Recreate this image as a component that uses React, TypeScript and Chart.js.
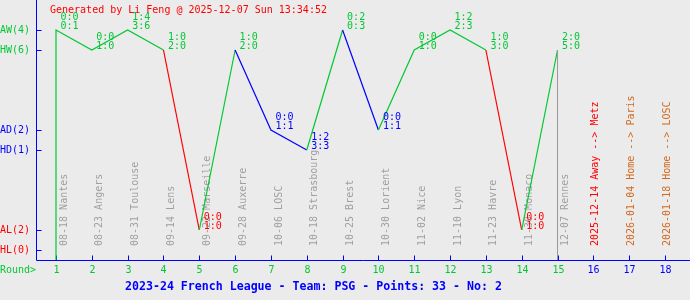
import { useEffect, useRef } from 'react';
import { Chart, registerables } from 'chart.js';

Chart.register(...registerables);

// ---- data ----
const rounds = [1, 2, 3, 4, 5, 6, 7, 8, 9, 10, 11, 12, 13, 14, 15];
const results = ['AW', 'HW', 'AW', 'HW', 'AL', 'HW', 'AD', 'HD', 'AW', 'AD', 'HW', 'AW', 'HW', 'AL', 'HW'];
const halfTime = ['0:0', '0:0', '1:4', '1:0', '0:0', '1:0', '0:0', '1:2', '0:2', '0:0', '0:0', '1:2', '1:0', '0:0', '2:0'];
const fullTime = ['0:1', '1:0', '3:6', '2:0', '1:0', '2:0', '1:1', '3:3', '0:3', '1:1', '1:0', '2:3', '3:0', '1:0', '5:0'];
const matchDates = ['08-18', '08-23', '08-31', '09-14', '09-22', '09-28', '10-06', '10-18', '10-25', '10-30', '11-02', '11-10', '11-23', '11-30', '12-07'];
const opponents = ['Nantes', 'Angers', 'Toulouse', 'Lens', 'Marseille', 'Auxerre', 'LOSC', 'Strasbourg', 'Brest', 'Lorient', 'Nice', 'Lyon', 'Havre', 'Monaco', 'Rennes'];

const futureRounds = [16, 17, 18];
const futureDates = ['2025-12-14', '2026-01-04', '2026-01-18'];
const futureVenues = ['Away', 'Home', 'Home'];
const futureOpponents = ['Metz', 'Paris', 'LOSC'];

const levelKeys = ['AW', 'HW', 'AD', 'HD', 'AL', 'HL'];
const levelValues = [11, 10, 6, 5, 1, 0];
const levelCounts = [4, 6, 2, 1, 2, 0];

const headerText = 'Generated by Li Feng @ 2025-12-07 Sun 13:34:52';
const titleText = '2023-24 French League - Team: PSG - Points: 33 - No: 2';
const roundLabel = 'Round>';

// ---- style ----
const GREEN = '#00c832';
const BLUE = '#0000ff';
const RED = '#ff0000';
const BROWN = '#d2691e';
const GRAY = '#a0a0a0';
const BG = '#ebebeb';
const FONT = '"DejaVu Sans Mono", "Liberation Mono", monospace';

const colorOf = (code: string) => (code[1] === 'W' ? GREEN : code[1] === 'D' ? BLUE : RED);
const valueOf = (code: string) => levelValues[levelKeys.indexOf(code)];

export default function App() {
  const ref = useRef<HTMLCanvasElement>(null);

  useEffect(() => {
    document.body.style.margin = '0';
    const canvas = ref.current;
    if (!canvas) return;

    const mainData = [{ x: rounds[0], y: -0.5 }, ...rounds.map((r, i) => ({ x: r, y: valueOf(results[i]) }))];
    const lastIdx = rounds.length - 1;
    const markerData = [
      { x: rounds[lastIdx], y: -0.5 },
      { x: rounds[lastIdx], y: valueOf(results[lastIdx]) },
    ];

    const deco = {
      id: 'deco',
      beforeDraw(chart: any) {
        const ctx = chart.ctx;
        ctx.save();
        ctx.fillStyle = BG;
        ctx.fillRect(0, 0, chart.width, chart.height);
        ctx.restore();
      },
      beforeDatasetsDraw(chart: any) {
        const ctx = chart.ctx;
        const xs = chart.scales.x;
        const ys = chart.scales.y;
        const area = chart.chartArea;
        const ax = Math.round(area.left) - 0.5;
        const ay = Math.round(area.bottom) + 0.5;
        ctx.save();
        // axes
        ctx.strokeStyle = BLUE;
        ctx.lineWidth = 1;
        ctx.beginPath();
        ctx.moveTo(ax, area.top);
        ctx.lineTo(ax, ay);
        ctx.lineTo(area.right, ay);
        ctx.stroke();
        // y ticks + labels
        ctx.font = `10px ${FONT}`;
        ctx.textBaseline = 'middle';
        ctx.textAlign = 'left';
        levelKeys.forEach((k, i) => {
          const py = Math.round(ys.getPixelForValue(levelValues[i])) + 0.5;
          ctx.beginPath();
          ctx.moveTo(ax, py);
          ctx.lineTo(ax + 5, py);
          ctx.stroke();
          ctx.fillStyle = colorOf(k);
          ctx.fillText(`${k}(${levelCounts[i]})`, 0, py);
        });
        // x ticks + labels
        const allRounds = [...rounds, ...futureRounds];
        ctx.textAlign = 'center';
        allRounds.forEach((r, i) => {
          const px = Math.round(xs.getPixelForValue(r)) + 0.5;
          ctx.strokeStyle = BLUE;
          ctx.beginPath();
          ctx.moveTo(px, ay - 5);
          ctx.lineTo(px, ay);
          ctx.stroke();
          ctx.fillStyle = i < rounds.length ? GREEN : BLUE;
          ctx.fillText(String(r), px, ay + 9.5);
        });
        ctx.textAlign = 'left';
        ctx.fillStyle = GREEN;
        ctx.fillText(roundLabel, 0, ay + 9.5);

        // opponent labels (vertical)
        const baseY = ys.getPixelForValue(0) - 4;
        rounds.forEach((r, i) => {
          const px = xs.getPixelForValue(r) + 8;
          ctx.save();
          ctx.translate(px, baseY);
          ctx.rotate(-Math.PI / 2);
          ctx.fillStyle = GRAY;
          ctx.textAlign = 'left';
          ctx.textBaseline = 'middle';
          ctx.fillText(`${matchDates[i]} ${opponents[i]}`, 0, 0);
          ctx.restore();
        });
        futureRounds.forEach((r, i) => {
          const px = xs.getPixelForValue(r) + 2.5;
          ctx.save();
          ctx.translate(px, baseY);
          ctx.rotate(-Math.PI / 2);
          ctx.fillStyle = futureVenues[i] === 'Away' ? RED : BROWN;
          ctx.textAlign = 'left';
          ctx.textBaseline = 'middle';
          ctx.fillText(`${futureDates[i]} ${futureVenues[i]} --> ${futureOpponents[i]}`, 0, 0);
          ctx.restore();
        });

        // header
        ctx.fillStyle = RED;
        ctx.textAlign = 'left';
        ctx.fillText(headerText, 50, 10);
        // title
        ctx.fillStyle = BLUE;
        ctx.font = `bold 11.6px ${FONT}`;
        ctx.fillText(titleText, 125, 287);
        ctx.restore();
      },
      afterDatasetsDraw(chart: any) {
        const ctx = chart.ctx;
        const xs = chart.scales.x;
        const ys = chart.scales.y;
        ctx.save();
        ctx.font = `10px ${FONT}`;
        ctx.textAlign = 'left';
        ctx.textBaseline = 'middle';
        rounds.forEach((r, i) => {
          const px = xs.getPixelForValue(r) + 4.5;
          const py = ys.getPixelForValue(valueOf(results[i]));
          ctx.fillStyle = colorOf(results[i]);
          ctx.fillText(halfTime[i], px, py - 13);
          ctx.fillText(fullTime[i], px, py - 4);
        });
        ctx.restore();
      },
    };

    const chart = new Chart(canvas, {
      type: 'line',
      data: {
        datasets: [
          {
            data: markerData,
            borderColor: '#999999',
            borderWidth: 1,
            pointRadius: 0,
            clip: false as any,
          },
          {
            data: mainData,
            borderColor: GREEN,
            borderWidth: 1.2,
            pointRadius: 0,
            clip: false as any,
            segment: {
              borderColor: (c: any) => colorOf(results[c.p1DataIndex - 1] ?? results[0]),
            },
          },
        ],
      },
      options: {
        animation: false,
        responsive: false,
        devicePixelRatio: 1,
        layout: { padding: { left: 37, right: 0, top: 0, bottom: 40 } },
        plugins: { legend: { display: false }, tooltip: { enabled: false }, title: { display: false } },
        scales: {
          x: { type: 'linear', display: false, min: 0.4696, max: 18.698 },
          y: { type: 'linear', display: false, min: -0.5, max: 12.5 },
        },
      },
      plugins: [deco],
    });

    return () => chart.destroy();
  }, []);

  return (
    <canvas ref={ref} width={690} height={300} style={{ display: 'block', width: 690, height: 300 }} />
  );
}
